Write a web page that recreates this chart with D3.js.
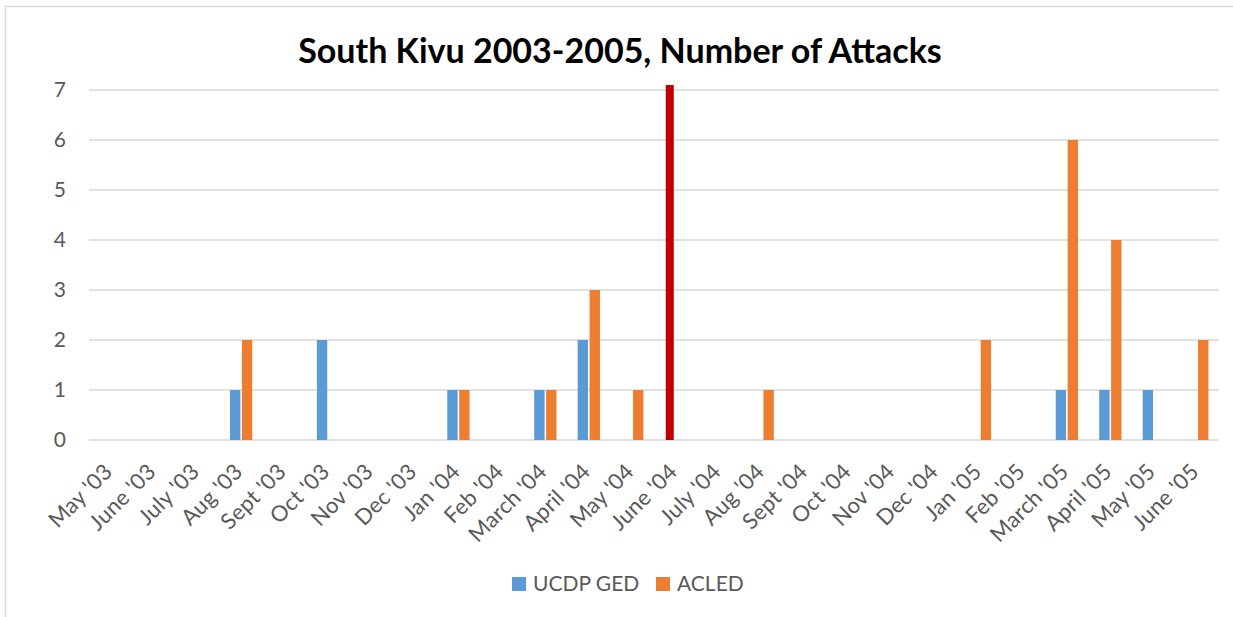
<!DOCTYPE html>
<html>
<head>
<meta charset="utf-8">
<script src="https://cdn.jsdelivr.net/npm/d3@7"></script>
<style>
  html, body { margin: 0; padding: 0; background: #fff; }
  svg { display: block; }
  text { font-family: Lato, "Open Sans", sans-serif; }
</style>
</head>
<body>
<svg id="chart" width="1233" height="617"></svg>
<script>
// Months on the category axis
const months = ["May '03", "June '03", "July '03", "Aug '03", "Sept '03", "Oct '03", "Nov '03", "Dec '03",
  "Jan '04", "Feb '04", "March '04", "April '04", "May '04", "June '04", "July '04", "Aug '04",
  "Sept '04", "Oct '04", "Nov '04", "Dec '04", "Jan '05", "Feb '05", "March '05", "April '05",
  "May '05", "June '05"];

// Monthly attack counts per source
const ucdpGed = [0, 0, 0, 1, 0, 2, 0, 0, 1, 0, 1, 2, 0, 0, 0, 0, 0, 0, 0, 0, 0, 0, 1, 1, 1, 0];
const acled   = [0, 0, 0, 2, 0, 0, 0, 0, 1, 0, 1, 3, 1, 0, 0, 1, 0, 0, 0, 0, 2, 0, 6, 4, 0, 2];

// Highlight marker drawn at a single month
const markerMonth = ["June '04"];
const markerValue = [7.1];

const yTicks = [0, 1, 2, 3, 4, 5, 6, 7];
const seriesNames = ["UCDP GED", "ACLED"];
const seriesColors = ["#5b9bd5", "#ed7d31"];

const svg = d3.select("#chart");

// Chart frame
svg.append("rect")
  .attr("x", 5.5).attr("y", 6.5)
  .attr("width", 1300).attr("height", 700)
  .attr("fill", "#fff").attr("stroke", "#d9d9d9").attr("stroke-width", 1.5);

const plot = { left: 89, right: 1219, top: 90, bottom: 440 };

const x = d3.scaleBand().domain(months).range([plot.left, plot.right]).paddingInner(0).paddingOuter(0);
const y = d3.scaleLinear().domain([0, 7]).range([plot.bottom, plot.top]);

// Bars within a month slot
const sub = d3.scaleBand().domain(seriesNames).range([-11.15, 11.15]).paddingInner(0.13);

// Gridlines
svg.append("g").selectAll("line").data(yTicks).join("line")
  .attr("x1", plot.left).attr("x2", plot.right)
  .attr("y1", d => y(d)).attr("y2", d => y(d))
  .attr("stroke", "#d9d9d9").attr("stroke-width", 1.5);

// Y axis labels
const yAxis = d3.axisLeft(y).tickValues(yTicks).tickSize(0).tickPadding(0).tickFormat(d3.format("d"));
svg.append("g").attr("transform", `translate(${66},0)`).call(yAxis)
  .call(g => g.select(".domain").remove())
  .call(g => g.selectAll("text")
    .attr("fill", "#595959").style("font-size", "21px").style("font-family", "Lato, sans-serif"));

// Bars
const seriesData = [ucdpGed, acled];
seriesData.forEach((vals, si) => {
  svg.append("g").selectAll("rect")
    .data(vals.map((v, i) => ({ m: months[i], v })).filter(d => d.v > 0))
    .join("rect")
    .attr("x", d => x(d.m) + x.bandwidth() / 2 + sub(seriesNames[si]))
    .attr("width", sub.bandwidth())
    .attr("y", d => y(d.v))
    .attr("height", d => y(0) - y(d.v))
    .attr("fill", seriesColors[si]);
});

// Highlight marker
svg.append("g").selectAll("rect")
  .data(markerMonth.map((m, i) => ({ m, v: markerValue[i] })))
  .join("rect")
  .attr("x", d => x(d.m) + x.bandwidth() / 2 + sub(seriesNames[0]) + sub.bandwidth() / 2 - 4)
  .attr("width", 8)
  .attr("y", d => y(d.v))
  .attr("height", d => y(0) - y(d.v))
  .attr("fill", "#c00000");

// X axis labels, rotated
svg.append("g").selectAll("text").data(months).join("text")
  .attr("transform", d => `translate(${x(d) + x.bandwidth() / 2 + 3},${473}) rotate(-45)`)
  .attr("text-anchor", "end")
  .attr("fill", "#595959")
  .style("font-size", "22px")
  .style("letter-spacing", "0.3px")
  .text(d => d);

// Title
svg.append("text")
  .attr("x", 620).attr("y", 63)
  .attr("text-anchor", "middle")
  .style("font-size", "34px").style("font-weight", "bold")
  .attr("fill", "#000")
  .text("South Kivu 2003-2005, Number of Attacks");

// Legend
const legend = svg.append("g");
const legendItems = [{ name: seriesNames[0], color: seriesColors[0], x: 512 }, { name: seriesNames[1], color: seriesColors[1], x: 656 }];
legendItems.forEach(it => {
  legend.append("rect").attr("x", it.x).attr("y", 577).attr("width", 14).attr("height", 14).attr("fill", it.color);
  legend.append("text").attr("x", it.x + 21).attr("y", 591)
    .attr("fill", "#595959").style("font-size", "21px").text(it.name);
});
</script>
</body>
</html>
